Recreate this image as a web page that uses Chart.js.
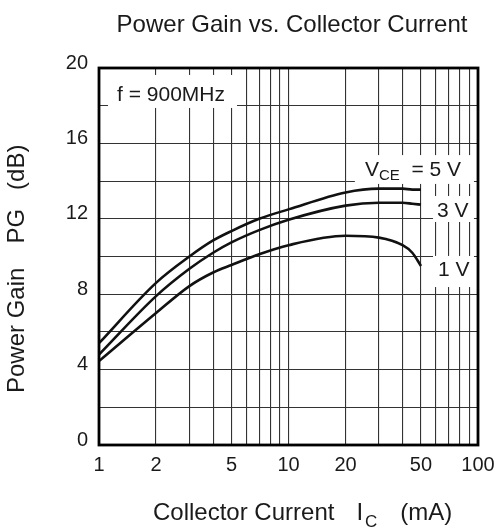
<!DOCTYPE html>
<html>
<head>
<meta charset="utf-8">
<script src="https://cdn.jsdelivr.net/npm/chart.js@4/dist/chart.umd.min.js"></script>
<style>
    html, body { margin: 0; padding: 0; background: #fff; }
</style>
</head>
<body>
<canvas id="chart" width="495" height="530"></canvas>
<script>
// Collector current (mA) and power gain (dB)
const currentMA = [1, 2, 3, 4, 5, 7, 10, 20, 30, 40, 45, 50];
const gain5V = [5.4, 8.6, 10.0, 10.85, 11.35, 12.0, 12.5, 13.4, 13.6, 13.6, 13.55, 13.55];
const gain3V = [4.8, 7.9, 9.35, 10.2, 10.75, 11.4, 11.95, 12.7, 12.85, 12.85, 12.8, 12.75];
const gain1V = [4.45, 7.0, 8.43, 9.15, 9.55, 10.12, 10.6, 11.1, 11.0, 10.6, 10.2, 9.5];

// Grid lines and tick labels
const xGrid = [1, 2, 3, 4, 5, 6, 7, 8, 9, 10, 20, 30, 40, 50, 60, 70, 80, 90, 100];
const xLabels = [1, 2, 5, 10, 20, 50, 100];
const yLabels = [0, 4, 8, 12, 16, 20];

const FONT = "'Liberation Sans', Arial, Helvetica, sans-serif";
const INK = "#1a1a1a";

const toPoints = (ys) => currentMA.map((x, i) => ({ x: x, y: ys[i] }));

// draw text pieces one after another (for subscripts)
const drawRuns = (ctx, x, y, runs) => {
    runs.forEach((r) => {
        x += r.gap || 0;
        ctx.font = r.size + "px " + FONT;
        ctx.fillText(r.text, x, y + (r.dy || 0));
        x += ctx.measureText(r.text).width;
    });
};

// in-plot labels: white box + text, positioned in data units
const notes = [
    { box: [1.116, 5.35, 19.63, 17.88], at: [1.245, 18.54],
      runs: [{ text: "f = 900MHz", size: 21 }] },
    { box: [22.4, 95.2, 15.38, 13.85], at: [25.3, 14.59],
      runs: [{ text: "V", size: 21 }, { text: "CE", size: 15, dy: 6 }, { text: "  = 5 V", size: 21 }] },
    { box: [57.9, 95.2, 13.21, 11.83], at: [60.8, 12.41],
      runs: [{ text: "3 V", size: 21 }] },
    { box: [57.9, 95.2, 10.03, 8.38], at: [61.5, 9.28],
      runs: [{ text: "1 V", size: 21 }] },
];

const decorations = {
    id: "decorations",
    beforeDatasetsDraw(chart) {
        const { ctx, scales: { x, y } } = chart;
        ctx.save();
        notes.forEach((n) => {
            const x0 = x.getPixelForValue(n.box[0]);
            const x1 = x.getPixelForValue(n.box[1]);
            const y0 = y.getPixelForValue(n.box[2]);
            const y1 = y.getPixelForValue(n.box[3]);
            ctx.fillStyle = "#fff";
            ctx.fillRect(x0, y0, x1 - x0, y1 - y0);
            ctx.fillStyle = INK;
            ctx.textBaseline = "middle";
            ctx.textAlign = "left";
            drawRuns(ctx, x.getPixelForValue(n.at[0]), y.getPixelForValue(n.at[1]), n.runs);
        });
        ctx.restore();
    },
    afterDatasetsDraw(chart) {
        const { ctx, chartArea: a } = chart;
        ctx.save();
        // frame
        ctx.strokeStyle = "#000";
        ctx.lineWidth = 2.8;
        ctx.strokeRect(a.left, a.top, a.right - a.left, a.bottom - a.top);

        ctx.fillStyle = INK;
        ctx.textBaseline = "alphabetic";

        // title
        ctx.textAlign = "center";
        ctx.font = "24px " + FONT;
        ctx.fillText("Power Gain vs. Collector Current", 292, 32);

        // x axis title
        ctx.textAlign = "left";
        drawRuns(ctx, 153, 520, [
            { text: "Collector Current", size: 24 },
            { text: "I", size: 24, gap: 22 },
            { text: "C", size: 17, dy: 7, gap: 2 },
            { text: "(mA)", size: 24, gap: 23 },
        ]);

        // y axis title
        ctx.translate(24, 393);
        ctx.rotate(-Math.PI / 2);
        drawRuns(ctx, 0, 0, [
            { text: "Power Gain", size: 24 },
            { text: "PG", size: 24, gap: 24 },
            { text: "(dB)", size: 24, gap: 19 },
        ]);
        ctx.restore();
    },
};

const lineStyle = {
    borderColor: "#111",
    borderWidth: 2.6,
    pointRadius: 0,
    fill: false,
    cubicInterpolationMode: "monotone",
};

new Chart(document.getElementById("chart"), {
    type: "line",
    data: {
        datasets: [
            { label: "5 V", data: toPoints(gain5V), ...lineStyle },
            { label: "3 V", data: toPoints(gain3V), ...lineStyle },
            { label: "1 V", data: toPoints(gain1V), ...lineStyle },
        ],
    },
    options: {
        responsive: false,
        animation: false,
        devicePixelRatio: 1,
        layout: { padding: { left: 0, top: 68, right: 17, bottom: 0 } },
        plugins: {
            legend: { display: false },
            title: { display: false },
            tooltip: { enabled: false },
        },
        scales: {
            x: {
                type: "logarithmic",
                min: 1,
                max: 100,
                afterBuildTicks: (s) => { s.ticks = xGrid.map((v) => ({ value: v })); },
                afterFit: (s) => {
                    s.height = 85;
                    s.paddingLeft = 0;
                    s.paddingRight = 0;
                },
                ticks: {
                    autoSkip: false,
                    maxRotation: 0,
                    padding: 8,
                    color: INK,
                    font: { family: FONT, size: 20 },
                    callback: (v) => (xLabels.includes(v) ? String(v) : ""),
                },
                grid: { color: "#333", lineWidth: 1.1, drawTicks: false },
                border: { display: false },
            },
            y: {
                min: 0,
                max: 20,
                afterFit: (s) => {
                    s.width = 99;
                    s.paddingTop = 0;
                    s.paddingBottom = 0;
                },
                ticks: {
                    stepSize: 2,
                    padding: 11,
                    labelOffset: -5,
                    color: INK,
                    font: { family: FONT, size: 20 },
                    callback: (v) => (yLabels.includes(v) ? String(v) : ""),
                },
                grid: { color: "#333", lineWidth: 1.1, drawTicks: false },
                border: { display: false },
            },
        },
    },
    plugins: [decorations],
});
</script>
</body>
</html>
